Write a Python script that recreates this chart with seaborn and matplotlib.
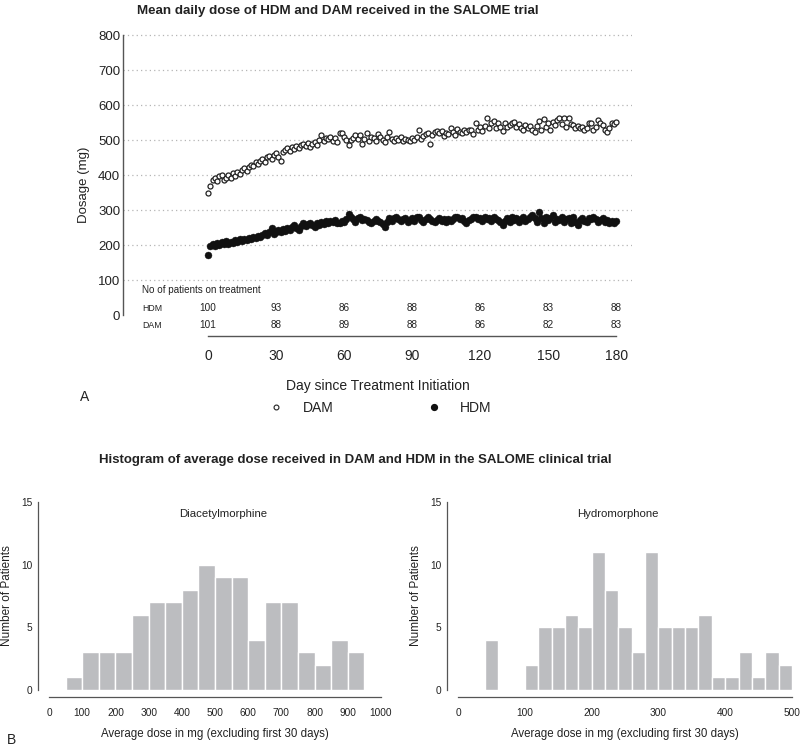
import numpy as np
import pandas as pd
import seaborn as sns
import matplotlib.pyplot as plt
from matplotlib.lines import Line2D

# Panel A: mean daily dose (mg), day 0..180
days = list(range(181))
dam_dose = [
    350, 368, 385, 392, 383, 396, 399, 386, 391, 401,
    392, 406, 398, 410, 404, 415, 419, 411, 423, 430,
    426, 438, 432, 441, 446, 437, 451, 455, 447, 458,
    463, 452, 441, 466, 471, 476, 468, 481, 473, 483,
    478, 486, 489, 484, 492, 481, 490, 495, 487, 500,
    514, 497, 505, 502, 509, 498, 506, 494, 519, 520,
    508, 501, 486, 499, 507, 514, 503, 515, 490, 504,
    519, 498, 510, 505, 497, 516, 508, 501, 495, 509,
    524, 503, 498, 506, 500, 510, 497, 504, 501, 496,
    505, 499, 508, 529, 503, 511, 517, 520, 490, 514,
    522, 527, 519, 525, 512, 521, 516, 533, 523, 514,
    531, 524, 520, 529, 522, 528, 530, 518, 548, 530,
    538, 527, 540, 564, 535, 548, 555, 533, 548, 538,
    527, 548, 536, 543, 548, 552, 537, 545, 534, 528,
    543, 533, 539, 529, 524, 541, 554, 529, 560, 538,
    549, 529, 551, 543, 557, 564, 547, 562, 538, 562,
    545, 543, 535, 540, 534, 538, 529, 534, 548, 550,
    529, 538, 557, 550, 543, 529, 524, 533, 548, 545,
    552,
]
hdm_dose = [
    172, 197, 204, 196, 205, 199, 208, 202, 211, 204,
    210, 206, 213, 208, 216, 212, 218, 215, 221, 217,
    224, 220, 227, 222, 229, 233, 228, 236, 248, 232,
    238, 242, 236, 245, 240, 248, 243, 251, 257, 249,
    243, 255, 262, 254, 259, 262, 256, 252, 263, 258,
    267, 261, 270, 264, 268, 266, 272, 263, 262, 269,
    266, 273, 288, 281, 274, 267, 276, 281, 271, 275,
    272, 266, 262, 270, 273, 268, 267, 261, 252, 266,
    276, 270, 278, 281, 274, 269, 273, 277, 267, 271,
    276, 270, 279, 281, 272, 267, 275, 281, 273, 270,
    265, 272, 278, 268, 273, 267, 275, 270, 273, 279,
    281, 274, 276, 270, 262, 271, 273, 279, 281, 274,
    276, 269, 281, 275, 276, 270, 281, 274, 272, 266,
    257, 270, 276, 267, 279, 271, 276, 267, 273, 281,
    270, 273, 279, 286, 276, 267, 295, 276, 262, 281,
    271, 277, 286, 267, 273, 271, 279, 267, 275, 276,
    262, 281, 267, 257, 272, 276, 270, 267, 276, 273,
    281, 274, 267, 271, 278, 265, 271, 262, 269, 264,
    268,
]

# patients on treatment table
table_days = [0, 30, 60, 90, 120, 150, 180]
n_hdm = [100, 93, 86, 88, 86, 83, 88]
n_dam = [101, 88, 89, 88, 86, 82, 83]

# Panel B: histogram counts
dam_edges = list(range(50, 1000, 50))
dam_counts = [1, 3, 3, 3, 6, 7, 7, 8, 10, 9, 9, 4, 7, 7, 3, 2, 4, 3]
hdm_edges = list(range(40, 520, 20))
hdm_counts = [4, 0, 0, 2, 5, 5, 6, 5, 11, 8, 5, 3, 11, 5, 5, 5, 6, 1, 1, 3, 1, 3, 2]

sns.set_style("white")
plt.rcParams["font.family"] = ["Liberation Sans", "DejaVu Sans"]

W, H = 800, 747
fig = plt.figure(figsize=(W / 100, H / 100), dpi=100)
txt = "#222222"
spine_c = "#555555"


def px_axes(x0, y0, x1, y1):
    # pixel box (top-left origin) -> figure axes
    return fig.add_axes([x0 / W, 1 - y1 / H, (x1 - x0) / W, (y1 - y0) / H])


# ---------------- Panel A ----------------
ax = px_axes(123, 34, 632, 336)
df = pd.DataFrame({"day": days, "DAM": dam_dose, "HDM": hdm_dose})
sns.scatterplot(data=df, x="day", y="DAM", ax=ax, marker="o", s=13,
                facecolor="white", edgecolor="#222222", linewidth=0.9, zorder=3)
sns.scatterplot(data=df, x="day", y="HDM", ax=ax, marker="o", s=25,
                color="#111111", edgecolor="#111111", linewidth=0.3, zorder=3)
ax.set_xlim(-37.5, 187)
ax.set_ylim(-60, 803)
for yv in range(100, 900, 100):
    ax.axhline(yv, color="#b5b5b5", lw=0.9, ls=(0, (1, 2.5)), zorder=1)

for s in ["top", "right"]:
    ax.spines[s].set_visible(False)
ax.spines["left"].set_bounds(0, 800)
ax.spines["bottom"].set_bounds(0, 180)
for s in ["left", "bottom"]:
    ax.spines[s].set_color(spine_c)
    ax.spines[s].set_linewidth(1.0)
ax.set_yticks(range(0, 900, 100))
ax.set_xticks(table_days)
ax.tick_params(axis="y", direction="in", length=3, pad=2, labelsize=9.5,
               color=spine_c, labelcolor=txt)
ax.tick_params(axis="x", direction="in", length=4, pad=9, labelsize=10,
               color=spine_c, labelcolor=txt)
ax.set_xlabel("Day since Treatment Initiation", fontsize=10, color=txt, labelpad=12)
ax.set_ylabel("Dosage (mg)", fontsize=9.5, color=txt, labelpad=6)

ax.text(-29, 71, "No of patients on treatment", fontsize=7.1, color=txt, va="center")
ax.text(-29, 20, "HDM", fontsize=6.3, color=txt, va="center")
ax.text(-29, -29, "DAM", fontsize=6.3, color=txt, va="center")
for d, a, b in zip(table_days, n_hdm, n_dam):
    ax.text(d, 20, str(a), fontsize=7.2, color=txt, ha="center", va="center")
    ax.text(d, -29, str(b), fontsize=7.2, color=txt, ha="center", va="center")

handles = [
    Line2D([], [], ls="", marker="o", ms=3.5, mfc="white", mec="#222222", mew=0.8),
    Line2D([], [], ls="", marker="o", ms=4.2, mfc="#111111", mec="#111111"),
]
fig.legend(handles, ["DAM", "HDM"], loc="center", bbox_to_anchor=(377 / W, 1 - 408 / H),
           ncol=2, frameon=False, fontsize=10, handletextpad=0.9, columnspacing=6.2,
           labelcolor=txt)

fig.text(338 / W, 1 - 11 / H, "Mean daily dose of HDM and DAM received in the SALOME trial",
         ha="center", va="center", fontsize=9.6, fontweight="bold", color=txt)
fig.text(85 / W, 1 - 397 / H, "A", ha="center", va="center", fontsize=10, color=txt)

# ---------------- Panel B ----------------
fig.text(355 / W, 1 - 460 / H,
         "Histogram of average dose received in DAM and HDM in the SALOME clinical trial",
         ha="center", va="center", fontsize=9.5, fontweight="bold", color=txt)
fig.text(12 / W, 1 - 740 / H, "B", ha="center", va="center", fontsize=10, color=txt)


def hist_panel(box, edges, counts, width, xmax, xstep, title, tx):
    hx = px_axes(*box)
    centers = [e + width / 2 for e in edges[:-1]]
    sns.histplot(x=centers, weights=counts, bins=edges, ax=hx, color="#bcbdc0",
                 edgecolor="white", linewidth=1.0, alpha=1)
    hx.set_xlim(0, xmax)
    hx.set_ylim(0, 15)
    hx.set_xticks(range(0, xmax + 1, xstep))
    hx.set_yticks([0, 5, 10, 15])
    for s in ["top", "right"]:
        hx.spines[s].set_visible(False)
    hx.spines["left"].set_position(("outward", 8))
    hx.spines["bottom"].set_position(("outward", 5))
    for s in ["left", "bottom"]:
        hx.spines[s].set_color(spine_c)
        hx.spines[s].set_linewidth(0.9)
    hx.tick_params(direction="in", length=3, labelsize=7.3, color=spine_c, labelcolor=txt)
    hx.tick_params(axis="x", pad=8)
    hx.tick_params(axis="y", pad=4)
    hx.set_xlabel("Average dose in mg (excluding first 30 days)", fontsize=8.3,
                  color=txt, labelpad=7)
    hx.set_ylabel("Number of Patients", fontsize=8.5, color=txt, labelpad=6)
    hx.text(tx, 0.936, title, transform=hx.transAxes, ha="center", va="center",
            fontsize=8.2, color=txt)
    return hx


hist_panel((49, 502, 381, 690), dam_edges, dam_counts, 50, 1000, 100,
           "Diacetylmorphine", 0.524)
hist_panel((458, 502, 792, 690), hdm_edges, hdm_counts, 20, 500, 100,
           "Hydromorphone", 0.479)

fig.savefig("out.png", dpi=100)
